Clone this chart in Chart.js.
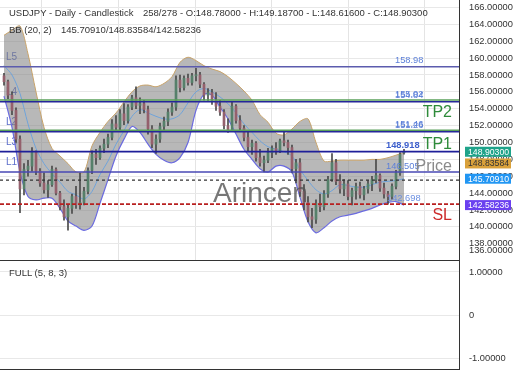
<!DOCTYPE html>
<html lang="en">
<head>
<meta charset="UTF-8" />
<title>USDJPY Daily Candlestick</title>
<script src="https://cdn.jsdelivr.net/npm/chart.js"></script>
<style>
  body { margin: 0; background: #fff; font-family: "Liberation Sans", Arial, sans-serif; }
  #wrap { position: relative; width: 520px; height: 390px; overflow: hidden; }
  canvas { position: absolute; left: 0; }
  #main { top: 0; }
  #osc { top: 260px; }
  .txt { position: absolute; font-size: 9.5px; line-height: 1; color: #333; white-space: pre; }
  #mark { position: absolute; left: 213px; top: 179px; font-size: 28px; line-height: 1; color: rgba(85, 85, 85, 0.8); }
</style>
</head>
<body>
<div id="wrap">
  <canvas id="main" width="520" height="260"></canvas>
  <canvas id="osc" width="520" height="110"></canvas>
  <div id="mark">Arincen</div>
  <div class="txt" style="left:9px;top:8px">USDJPY - Daily - Candlestick</div>
  <div class="txt" style="left:143px;top:8px">258/278 - O:148.78000 - H:149.18700 - L:148.61600 - C:148.90300</div>
  <div class="txt" style="left:9px;top:25px">BB (20, 2)</div>
  <div class="txt" style="left:61px;top:25px">145.70910/148.83584/142.58236</div>
  <div class="txt" style="left:9px;top:268px">FULL (5, 8, 3)</div>
</div>

<script>
  // candles, one every ~2.5 trading days
  const candleOpen = [157.9, 157.2, 155.6, 153.8, 150.4, 144.5, 146.8, 147.2, 148.9, 146.6,
    145.2, 144.4, 145.0, 146.8, 144.0, 142.4, 141.2, 142.2, 143.6, 142.6,
    142.9, 144.2, 146.7, 148.6, 148.2, 149.3, 149.8, 150.6, 152.2, 151.8,
    153.4, 152.6, 154.2, 155.3, 154.4, 154.6, 153.9, 151.6, 149.8, 150.4,
    151.9, 152.5, 153.6, 154.2, 157.4, 156.5, 157.6, 157.1, 157.9, 158.0,
    156.9, 155.6, 155.9, 155.0, 154.3, 153.6, 152.0, 151.5, 154.3, 152.6,
    151.7, 150.6, 149.5, 149.9, 148.2, 147.6, 147.9, 148.8, 149.3, 149.0,
    150.2, 150.0, 149.4, 146.9, 147.6, 144.2, 142.9, 141.2, 140.9, 142.8,
    142.4, 143.9, 145.6, 147.6, 145.4, 144.5, 145.1, 143.6, 144.3, 144.8,
    143.8, 144.5, 145.1, 145.6, 146.1, 144.6, 143.9, 143.6, 144.8, 146.4, 148.78];
  const candleHigh = [158.2, 157.4, 156.0, 154.1, 150.8, 147.5, 147.9, 149.4, 149.0, 146.9,
    146.4, 145.5, 147.2, 147.0, 144.2, 143.2, 142.6, 143.9, 144.8, 146.4,
    144.7, 147.0, 149.0, 149.2, 149.6, 150.4, 151.0, 152.7, 153.2, 153.9,
    154.6, 154.5, 155.6, 156.6, 155.3, 155.0, 154.3, 152.0, 150.9, 152.3,
    153.0, 154.0, 154.7, 157.9, 158.0, 157.9, 158.1, 158.2, 158.8, 158.3,
    157.1, 156.4, 156.3, 155.9, 155.0, 153.9, 152.8, 154.8, 154.5, 153.2,
    152.0, 151.2, 150.3, 150.1, 149.2, 148.4, 149.3, 149.6, 150.0, 150.4,
    151.2, 150.3, 149.7, 148.0, 148.1, 145.0, 143.6, 142.2, 143.2, 143.9,
    144.3, 146.0, 148.7, 148.0, 146.2, 145.6, 145.5, 144.6, 145.2, 145.3,
    144.8, 145.5, 146.0, 148.0, 146.3, 145.2, 144.2, 145.1, 146.7, 148.8, 149.187];
  const candleLow = [156.8, 155.2, 153.3, 150.0, 141.7, 143.8, 146.0, 146.6, 146.2, 144.8,
    144.0, 143.5, 144.8, 143.8, 142.0, 140.8, 139.6, 141.6, 142.2, 142.1,
    142.6, 143.9, 146.3, 147.4, 148.0, 148.8, 149.4, 150.3, 151.3, 151.5,
    152.1, 152.3, 153.9, 154.0, 153.4, 153.5, 151.0, 149.4, 148.7, 150.0,
    151.3, 152.0, 153.2, 153.8, 156.0, 156.2, 156.8, 156.8, 157.3, 156.5,
    155.0, 154.9, 154.5, 153.8, 153.2, 151.6, 151.2, 151.3, 152.3, 151.3,
    150.2, 149.0, 148.6, 147.8, 147.2, 146.5, 147.6, 148.2, 148.6, 148.8,
    149.6, 148.6, 146.4, 145.2, 143.6, 142.0, 140.6, 139.9, 140.4, 141.8,
    142.0, 143.5, 145.4, 145.0, 144.0, 143.7, 143.2, 142.6, 143.3, 143.4,
    143.2, 144.0, 144.3, 145.2, 144.2, 143.4, 142.7, 143.3, 144.5, 146.1, 148.616];
  const candleClose = [157.2, 155.6, 153.8, 150.4, 144.5, 146.8, 147.2, 148.9, 146.6, 145.2,
    144.4, 145.0, 146.8, 144.0, 142.4, 141.2, 142.2, 143.6, 142.6, 142.9,
    144.2, 146.7, 148.6, 148.2, 149.3, 149.8, 150.6, 152.2, 151.8, 153.4,
    152.6, 154.2, 155.3, 154.4, 154.6, 153.9, 151.6, 149.8, 150.4, 151.9,
    152.5, 153.6, 154.2, 157.4, 156.5, 157.6, 157.1, 157.9, 158.0, 156.9,
    155.6, 155.9, 155.0, 154.3, 153.6, 152.0, 151.5, 154.3, 152.6, 151.7,
    150.6, 149.5, 149.9, 148.2, 147.6, 147.9, 148.8, 149.3, 149.0, 150.2,
    150.0, 149.4, 146.9, 147.6, 144.2, 142.9, 141.2, 140.9, 142.8, 142.4,
    143.9, 145.6, 147.6, 145.4, 144.5, 145.1, 143.6, 144.3, 144.8, 143.8,
    144.5, 145.1, 145.6, 146.1, 144.6, 143.9, 143.6, 144.8, 146.4, 148.6, 148.903];

  // Bollinger bands (20, 2), read every second candle
  const bbUpper = [162.7, 163.3, 163.8, 160.5, 156.0, 151.8, 149.3, 148.4, 147.5, 146.5,
    146.5, 149.6, 151.2, 152.5, 153.5, 154.8, 156.0, 156.7, 156.8, 156.6,
    157.0, 157.8, 159.5, 160.1, 159.7, 159.1, 158.7, 158.4, 157.8, 157.0,
    156.1, 155.0, 153.3, 152.4, 151.1, 150.9, 151.6, 152.5, 152.8, 150.0,
    147.8, 147.8, 147.9, 147.9, 147.9, 147.9, 148.0, 148.0, 148.2, 148.5, 148.84];
  const bbMiddle = [159.1, 158.0, 155.8, 152.2, 149.3, 147.5, 146.3, 145.3, 144.2, 143.8,
    143.3, 144.2, 146.2, 147.8, 149.8, 151.4, 153.1, 153.9, 153.5, 153.1,
    152.8, 152.8, 153.3, 154.7, 156.0, 156.4, 156.0, 155.4, 154.6, 153.5,
    152.2, 151.2, 150.2, 149.5, 149.2, 148.9, 148.4, 146.8, 145.5, 144.4,
    143.9, 144.3, 145.0, 144.9, 144.7, 144.7, 145.0, 145.3, 145.4, 145.5, 145.71];
  const bbLower = [155.5, 151.8, 146.5, 143.6, 143.2, 143.4, 143.4, 142.2, 140.7, 140.1,
    139.6, 140.1, 142.8, 145.6, 148.4, 150.4, 151.9, 151.2, 149.8, 148.6,
    147.9, 147.6, 148.2, 150.0, 153.8, 155.7, 155.6, 154.2, 152.8, 151.0,
    149.2, 148.0, 146.9, 146.5, 147.2, 147.2, 146.5, 143.5, 140.6, 139.3,
    139.9, 140.7, 141.2, 141.4, 141.6, 141.9, 142.2, 142.6, 142.9, 143.0, 142.58];

  // horizontal levels
  const levelValues = [158.98, 155.02, 154.84, 151.46, 151.26, 148.918, 146.505];
  const entryLevel = 145.55;
  const stopLevel = 142.698;
  const levelNames = ["L5", "L4", "L2", "L3", "L1"];
  const levelNameValues = [158.98, 154.84, 151.26, 148.918, 146.505];
  const tagValues = [148.903, 148.83584, 145.7091, 142.58236];

  const yTicks = [136, 138, 140, 142, 144, 146, 148, 150, 152, 154, 156, 158, 160, 162, 164, 166];
  const gridX = [19, 38.25, 57.25, 76.5, 95.5];
  const oscTicks = [-1, 0, 1];

  const FONT = '"Liberation Sans", Arial, sans-serif';
  const X_MIN = -1, X_MAX = 113.75;

  const levelStyle = [
    { c: "#5c5cae", w: 1.5 }, { c: "#5aa05a", w: 1.5 }, { c: "#26269a", w: 1.5 },
    { c: "#5aa05a", w: 1.5 }, { c: "#26269a", w: 1.5 }, { c: "#1f1f99", w: 1.8 },
    { c: "#4848b5", w: 1.3 }
  ];
  const levelLabelX = [395, 395, 395, 395, 395, 386, 386];

  const bbPoints = arr => arr.map((v, k) => ({ x: k * 2, y: v }));
  const flat = v => [{ x: X_MIN, y: v }, { x: X_MAX, y: v }];
  const up = i => candleClose[i] >= candleOpen[i];
  const noPad = s => { s.paddingTop = 0; s.paddingBottom = 0; s.paddingLeft = 0; s.paddingRight = 0; };

  const datasets = [
    { type: "line", data: bbPoints(bbUpper), borderColor: "#c8a36a", borderWidth: 1,
      backgroundColor: "rgba(125,125,125,0.55)", fill: "+2", pointRadius: 0, tension: 0.3, order: 9 },
    { type: "line", data: bbPoints(bbMiddle), borderColor: "#6fa3da", borderWidth: 1,
      pointRadius: 0, tension: 0.3, fill: false, order: 8 },
    { type: "line", data: bbPoints(bbLower), borderColor: "#6b6be0", borderWidth: 1.2,
      pointRadius: 0, tension: 0.3, fill: false, order: 8 },
    { type: "bar", data: candleLow.map((l, i) => ({ x: i, y: [l, candleHigh[i]] })),
      backgroundColor: "#4a4a4a", barThickness: 1, grouped: false, order: 6 },
    { type: "bar", data: candleOpen.map((o, i) => ({ x: i, y: [o, candleClose[i]] })),
      backgroundColor: ctx => up(ctx.dataIndex) ? "#56806a" : "#94606c",
      barThickness: 2, grouped: false, minBarLength: 1, order: 5 }
  ];
  levelValues.forEach((v, k) => datasets.push({
    type: "line", data: flat(v), borderColor: levelStyle[k].c, borderWidth: levelStyle[k].w,
    pointRadius: 0, fill: false, order: 1
  }));
  datasets.push({ type: "line", data: flat(entryLevel), borderColor: "#333", borderWidth: 1.2,
    borderDash: [3, 3], pointRadius: 0, fill: false, order: 1 });
  datasets.push({ type: "line", data: flat(stopLevel), borderColor: "#b82020", borderWidth: 1.6,
    borderDash: [4, 2], pointRadius: 0, fill: false, order: 1 });

  const overlay = {
    id: "overlay",
    beforeDatasetsDraw(chart) {
      const { ctx, scales: { y } } = chart;
      ctx.save();
      ctx.font = "10px " + FONT;
      ctx.fillStyle = "#5d6fcb";
      ctx.textBaseline = "middle";
      levelNames.forEach((t, k) => ctx.fillText(t, 6, y.getPixelForValue(levelNameValues[k]) - 9.5));
      ctx.restore();
    },
    afterDatasetsDraw(chart) {
      const { ctx, scales: { y } } = chart;
      ctx.save();
      ctx.textBaseline = "middle";
      levelValues.forEach((v, k) => {
        ctx.font = (k === 5 ? "bold " : "") + "9.3px " + FONT;
        ctx.fillStyle = k === 5 ? "#3d5fcc" : "#5b7fd8";
        ctx.fillText(String(v), levelLabelX[k], y.getPixelForValue(v) - 6);
      });
      ctx.font = "9.3px " + FONT;
      ctx.fillStyle = "#6b8fe0";
      ctx.fillText(String(stopLevel), 387, y.getPixelForValue(stopLevel) - 6);

      ctx.font = "16px " + FONT;
      ctx.textAlign = "right";
      const big = [["TP2", 153.6, "#2e8b3a"], ["TP1", 149.75, "#2e8b3a"], ["Price", 147.2, "#8a8a8a"], ["SL", 141.3, "#cc2a2a"]];
      big.forEach(([t, v, c]) => { ctx.fillStyle = c; ctx.fillText(t, 452, y.getPixelForValue(v)); });
      ctx.restore();
    },
    afterDraw(chart) {
      const { ctx, scales: { y } } = chart;
      ctx.save();
      ctx.textBaseline = "middle";
      ctx.font = "9.3px " + FONT;
      ctx.fillStyle = "#333";
      ctx.fillText("136.00000", 469, 250);
      const tagStyle = [["#1fa38a", "#fff"], ["#d9a13b", "#333"], ["#2196f3", "#fff"], ["#6a40f0", "#fff"]];
      ctx.font = "8.7px " + FONT;
      let prev = -99;
      tagValues.forEach((v, k) => {
        let yy = y.getPixelForValue(v);
        if (yy < prev + 11.7) yy = prev + 11.7;
        prev = yy;
        ctx.fillStyle = tagStyle[k][0];
        ctx.fillRect(465, yy - 5, 46, 10);
        ctx.fillStyle = tagStyle[k][1];
        ctx.fillText(v.toFixed(5), 468, yy + 0.5);
      });
      ctx.restore();
    }
  };

  new Chart(document.getElementById("main"), {
    data: { datasets },
    options: {
      responsive: false, animation: false, devicePixelRatio: 1,
      layout: { padding: 0 },
      plugins: { legend: { display: false }, tooltip: { enabled: false } },
      scales: {
        x: {
          type: "linear", min: X_MIN, max: X_MAX, offset: false,
          afterBuildTicks: s => { s.ticks = gridX.map(v => ({ value: v })); },
          afterFit: s => { s.height = 0; noPad(s); },
          ticks: { display: false },
          grid: { color: "#e4e4e4", drawTicks: false },
          border: { display: false }
        },
        y: {
          position: "right", min: 136.08, max: 166.88,
          afterBuildTicks: s => { s.ticks = yTicks.map(v => ({ value: v })); },
          afterFit: s => { s.width = 61; noPad(s); },
          ticks: {
            padding: 10, autoSkip: false, color: "#333", font: { family: FONT, size: 9.3 },
            callback: v => v === 136 ? "" : v.toFixed(5)
          },
          grid: { color: "#e8e8e8", drawTicks: false },
          border: { display: true, color: "#333", width: 1 }
        }
      }
    },
    plugins: [overlay]
  });

  const frame = {
    id: "frame",
    afterDraw(chart) {
      const { ctx, chartArea: a } = chart;
      ctx.save();
      ctx.strokeStyle = "#333";
      ctx.lineWidth = 1;
      ctx.beginPath();
      ctx.moveTo(0, 0.5); ctx.lineTo(a.right, 0.5);
      ctx.moveTo(0, 109.5); ctx.lineTo(a.right, 109.5);
      ctx.stroke();
      ctx.restore();
    }
  };

  new Chart(document.getElementById("osc"), {
    type: "line",
    data: { datasets: [] },
    options: {
      responsive: false, animation: false, devicePixelRatio: 1,
      layout: { padding: 0 },
      plugins: { legend: { display: false }, tooltip: { enabled: false } },
      scales: {
        x: { type: "linear", min: X_MIN, max: X_MAX, display: false },
        y: {
          position: "right", min: -1.279, max: 1.279,
          afterBuildTicks: s => { s.ticks = oscTicks.map(v => ({ value: v })); },
          afterFit: s => { s.width = 61; noPad(s); },
          ticks: {
            padding: 10, color: "#333", font: { family: FONT, size: 9.3 },
            callback: v => v === 0 ? "0" : v.toFixed(5)
          },
          grid: { color: "#e8e8e8", drawTicks: false },
          border: { display: true, color: "#333", width: 1 }
        }
      }
    },
    plugins: [frame]
  });
</script>
</body>
</html>
